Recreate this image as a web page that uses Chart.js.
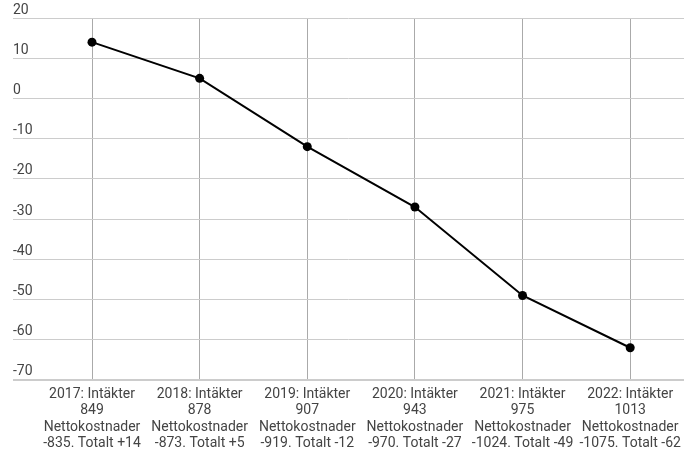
<!DOCTYPE html>
<html>
<head>
<meta charset="utf-8">
<script src="https://cdn.jsdelivr.net/npm/chart.js@4/dist/chart.umd.min.js"></script>
<style>
html,body{margin:0;padding:0;background:#fff;}
#wrap{width:698px;height:474px;position:relative;}
</style>
</head>
<body>
<div id="wrap"><canvas id="c" width="698" height="474"></canvas></div>
<script>
const categories = [
  ["2017: Intäkter","849","Nettokostnader","-835. Totalt +14"],
  ["2018: Intäkter","878","Nettokostnader","-873. Totalt +5"],
  ["2019: Intäkter","907","Nettokostnader","-919. Totalt -12"],
  ["2020: Intäkter","943","Nettokostnader","-970. Totalt -27"],
  ["2021: Intäkter","975","Nettokostnader","-1024. Totalt -49"],
  ["2022: Intäkter","1013","Nettokostnader","-1075. Totalt -62"]
];
const totals = [14, 5, -12, -27, -49, -62];
const yTicks = [20, 10, 0, -10, -20, -30, -40, -50, -60, -70];

const points = totals.map((v, i) => ({x: i, y: v}));

new Chart(document.getElementById('c'), {
  type: 'line',
  data: {
    datasets: [{
      data: points,
      borderColor: '#000',
      backgroundColor: '#000',
      borderWidth: 2,
      pointRadius: 4.5,
      pointBackgroundColor: '#000',
      pointBorderWidth: 0,
      tension: 0
    }]
  },
  options: {
    responsive: false,
    animation: false,
    layout: {padding: {left: 13, right: 14, top: 18, bottom: 16}},
    plugins: {legend: {display: false}, tooltip: {enabled: false}},
    scales: {
      x: {
        type: 'linear',
        min: -0.734,
        max: 5.5,
        afterBuildTicks: s => { s.ticks = categories.map((c, i) => ({value: i})); },
        grid: {color: '#aaaaaa', lineWidth: 1, drawTicks: false},
        border: {display: false},
        ticks: {
          autoSkip: false,
          maxRotation: 0,
          padding: 6,
          color: '#444',
          font: {family: 'Roboto', size: 14, lineHeight: 1.18},
          callback: (v) => categories[v] || ''
        }
      },
      y: {
        min: -70,
        max: 20,
        afterBuildTicks: s => { s.ticks = yTicks.map(v => ({value: v})); },
        grid: {
          color: ctx => '#cccccc',
          lineWidth: ctx => (ctx.tick && ctx.tick.value === -70) ? 2 : 1,
          drawTicks: false
        },
        border: {display: false},
        ticks: {
          mirror: true,
          padding: 0,
          labelOffset: -8,
          color: '#444',
          font: {family: 'Roboto', size: 14},
          callback: v => String(v)
        }
      }
    }
  }
});
</script>
</body>
</html>
